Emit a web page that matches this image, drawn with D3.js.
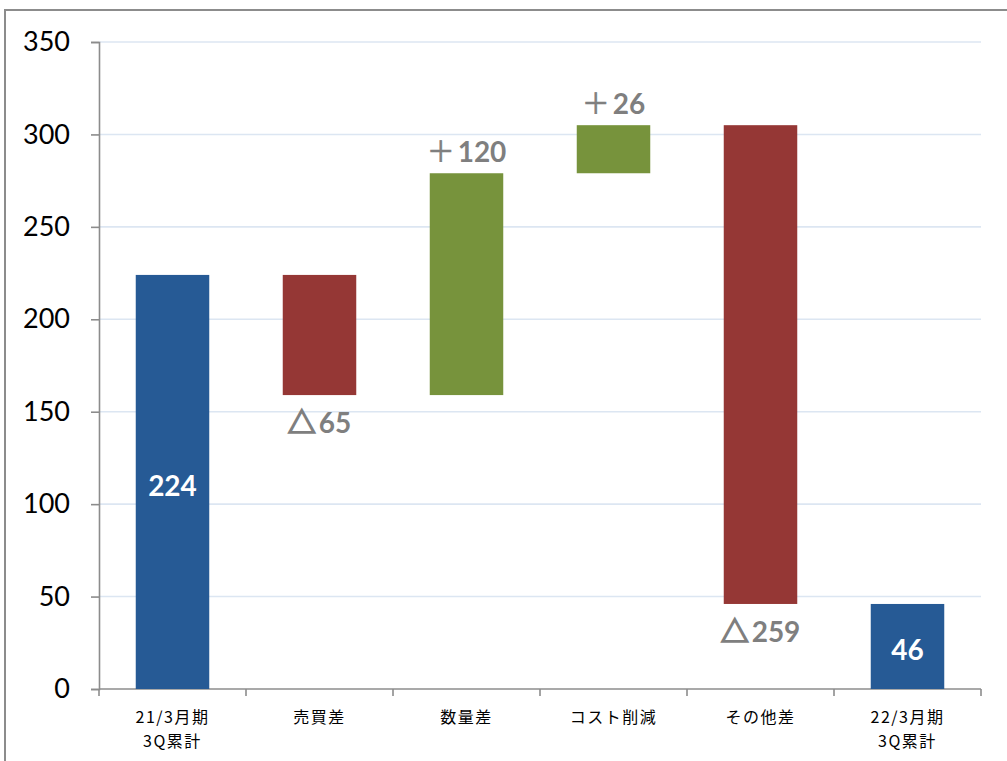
<!DOCTYPE html>
<html>
<head>
<meta charset="utf-8">
<script src="https://cdn.jsdelivr.net/npm/d3@7"></script>
<style>
  html, body { margin: 0; padding: 0; background: #fff; }
  svg { display: block; }
</style>
</head>
<body>
<svg id="chart" width="1007" height="761"></svg>
<script>
// Waterfall: operating profit bridge between two cumulative periods
const categories = ["21/3月期\n3Q累計", "売買差", "数量差", "コスト削減", "その他差", "22/3月期\n3Q累計"];
const kinds = ["total", "delta", "delta", "delta", "delta", "total"];
const values = [224, -65, 120, 26, -259, 46];
const yTicks = [0, 50, 100, 150, 200, 250, 300, 350];

const colors = { total: "#265A95", up: "#77933C", down: "#953735" };

const svg = d3.select("#chart");
const W = 1007, H = 761;
const margin = { left: 99, right: 26, top: 42, bottom: 72 };
const plotW = W - margin.left - margin.right;
const plotH = H - margin.top - margin.bottom;

// outer frame
svg.append("rect")
  .attr("x", 5).attr("y", 10)
  .attr("width", W + 10).attr("height", H + 10)
  .attr("fill", "none").attr("stroke", "#8C8C8C").attr("stroke-width", 2);

const g = svg.append("g").attr("transform", `translate(${margin.left},${margin.top})`);

const x = d3.scaleBand().domain(categories).range([0, plotW]).paddingInner(0.5).paddingOuter(0.25);
const y = d3.scaleLinear().domain([0, 350]).range([plotH, 0]);

// running totals for bar extents
let running = 0;
const bars = categories.map((c, i) => {
  const v = values[i];
  let y0, y1, color;
  if (kinds[i] === "total") {
    y0 = 0; y1 = v; running = v; color = colors.total;
  } else {
    y0 = running; y1 = running + v; running = y1;
    color = v >= 0 ? colors.up : colors.down;
  }
  return { c, v, kind: kinds[i], lo: Math.min(y0, y1), hi: Math.max(y0, y1), color };
});

// gridlines
g.append("g").selectAll("line").data(yTicks.filter(t => t > 0)).join("line")
  .attr("x1", 0).attr("x2", plotW)
  .attr("y1", d => y(d)).attr("y2", d => y(d))
  .attr("stroke", "#DCE6F2").attr("stroke-width", 1.6);

// y axis
const yAxis = g.append("g").call(d3.axisLeft(y).tickValues(yTicks).tickSize(8).tickPadding(21));
yAxis.select(".domain").attr("stroke", "#8C8C8C").attr("stroke-width", 1.6);
yAxis.selectAll(".tick line").attr("stroke", "#8C8C8C").attr("stroke-width", 1.6);
yAxis.selectAll(".tick text")
  .attr("font-family", "Lato, 'Open Sans', sans-serif")
  .attr("font-size", 27).attr("fill", "#000");

// x axis: ticks at category boundaries
const step = x.step();
const bounds = d3.range(categories.length + 1).map(i => i * step);
g.append("line").attr("x1", 0).attr("x2", plotW).attr("y1", plotH).attr("y2", plotH)
  .attr("stroke", "#8C8C8C").attr("stroke-width", 1.6);
g.append("g").selectAll("line").data(bounds).join("line")
  .attr("x1", d => d).attr("x2", d => d).attr("y1", plotH).attr("y2", plotH + 7)
  .attr("stroke", "#8C8C8C").attr("stroke-width", 1.6);

// category labels
const catText = g.append("g").selectAll("text").data(categories).join("text")
  .attr("x", d => x(d) + x.bandwidth() / 2)
  .attr("y", plotH + 34)
  .attr("text-anchor", "middle")
  .attr("font-family", "'Noto Sans CJK JP', sans-serif")
  .attr("font-size", 16).attr("letter-spacing", 1.5).attr("fill", "#000");
catText.each(function (d) {
  const lines = d.split("\n");
  d3.select(this).selectAll("tspan").data(lines).join("tspan")
    .attr("x", x(d) + x.bandwidth() / 2)
    .attr("dy", (l, i) => i === 0 ? 0 : 24)
    .text(l => l);
});

// bars
g.append("g").selectAll("rect").data(bars).join("rect")
  .attr("x", d => x(d.c)).attr("width", x.bandwidth())
  .attr("y", d => y(d.hi)).attr("height", d => y(d.lo) - y(d.hi))
  .attr("fill", d => d.color);

// value labels
const numFont = "Lato, 'Open Sans', sans-serif";
bars.forEach(d => {
  const cx = x(d.c) + x.bandwidth() / 2;
  if (d.kind === "total") {
    g.append("text").attr("x", cx).attr("y", (y(d.lo) + y(d.hi)) / 2)
      .attr("dy", "0.5em").attr("text-anchor", "middle")
      .attr("font-family", numFont).attr("font-weight", 700).attr("font-size", 28)
      .attr("fill", "#fff").text(d.v);
  } else {
    const up = d.v >= 0;
    const t = g.append("text").attr("x", cx)
      .attr("y", up ? y(d.hi) - 21 : y(d.lo) + 28)
      .attr("dy", "0.35em").attr("text-anchor", "middle")
      .attr("font-family", numFont).attr("font-size", 28).attr("fill", "#7F7F7F");
    t.append("tspan").attr("font-family", "'Noto Sans CJK JP', sans-serif")
      .attr("font-weight", up ? 400 : 700)
      .attr("stroke", "#7F7F7F").attr("stroke-width", up ? 0.6 : 1.6)
      .text(up ? "＋" : "△");
    t.append("tspan").attr("dx", 3).attr("font-weight", 700).text(Math.abs(d.v));
  }
});
</script>
</body>
</html>
